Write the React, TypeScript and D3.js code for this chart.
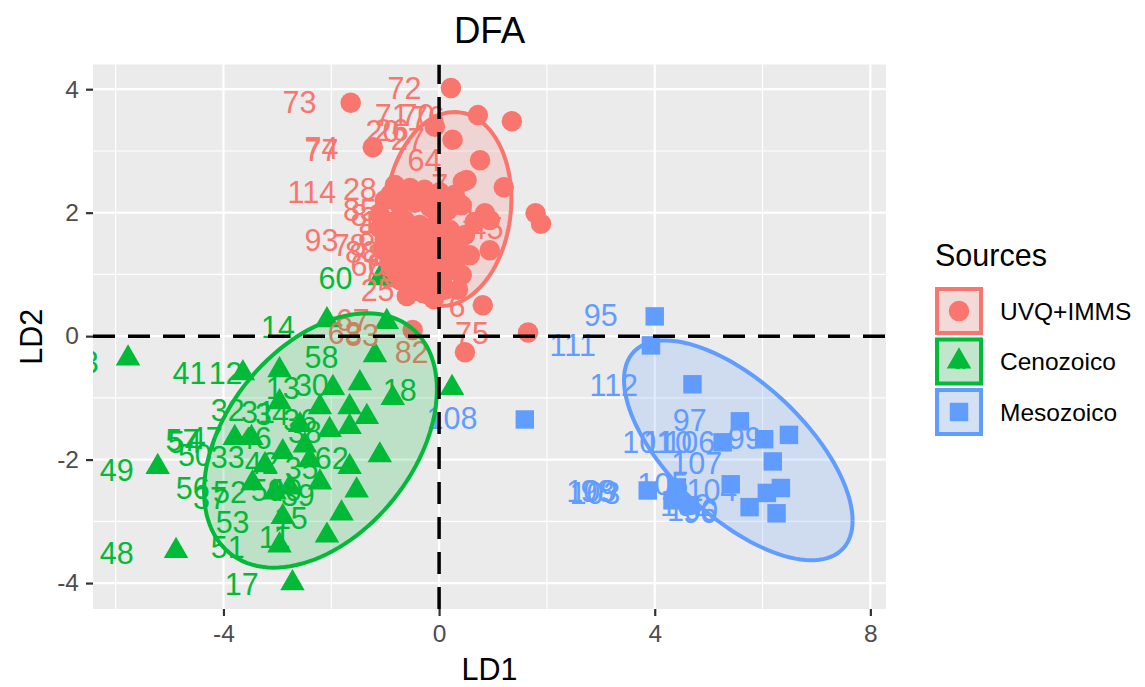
import React, { useRef, useEffect } from "react";
import * as d3 from "d3";

// groups and colours
const sources = ["UVQ+IMMS", "Cenozoico", "Mesozoico"];
const colors = ["#F8766D", "#00BA38", "#619CFF"];

// LD1 / LD2 scores
const uvqPoints: [number, number][] = [
  [0.22, 4.02], [-1.64, 3.78], [0.72, 3.58], [1.35, 3.48], [-0.08, 3.39], [0.25, 3.18],
  [-1.23, 3.06], [0.76, 2.85], [0.44, 2.5], [1.2, 2.41], [0.85, 1.99], [1.79, 1.99],
  [1.89, 1.82], [0.81, 0.5], [1.65, 0.06], [0.48, -0.26], [-0.17, 0.83], [-0.49, 0.1],
  [-0.82, 2.45], [-0.54, 2.4], [-0.27, 2.37], [0.01, 2.33], [0.29, 2.29], [0.51, 2.53],
  [-1.01, 2.2], [-0.73, 2.12], [-0.45, 2.16], [-0.17, 2.09], [0.16, 2.04], [0.42, 2.12],
  [0.66, 1.85], [-1.1, 1.96], [-0.88, 1.85], [-0.64, 1.88], [-0.36, 1.8], [-0.04, 1.85],
  [0.2, 1.72], [0.48, 1.64], [-1.01, 1.56], [-0.77, 1.47], [-0.54, 1.56], [-0.27, 1.47],
  [0.01, 1.43], [0.29, 1.39], [0.57, 1.31], [-0.91, 1.2], [-0.64, 1.15], [-0.36, 1.2],
  [-0.08, 1.1], [0.2, 1.07], [0.42, 0.99], [-0.73, 0.91], [-0.45, 0.83], [0.11, 0.75],
  [0.35, 0.75], [0.94, 1.88], [0.94, 1.39],
  [-0.9, 2.3], [-0.6, 2.25], [-0.3, 2.2], [0.05, 2.15], [-0.95, 1.7], [-0.7, 1.65],
  [-0.45, 1.7], [-0.2, 1.65], [0.1, 1.6], [0.35, 1.5], [-0.85, 1.35], [-0.6, 1.35],
  [-0.3, 1.3], [0.0, 1.25], [0.3, 1.2], [-0.55, 1.0], [-0.25, 0.95], [0.05, 0.9],
  [-0.3, 0.7], [-0.1, 0.6], [-0.6, 0.65], [-0.95, 0.95], [-1.05, 1.4], [-1.1, 1.75],
];
const uvqLabels: [string, number, number][] = [
  ["72", -0.64, 4.02], ["73", -2.59, 3.78], ["71", -0.88, 3.58], ["70", -0.4, 3.58],
  ["76", -0.21, 3.55], ["20", -1.05, 3.31], ["26", -0.88, 3.34], ["27", -0.58, 3.18],
  ["74", -2.18, 3.05], ["77", -2.18, 3.01], ["64", -0.27, 2.85], ["114", -2.36, 2.33],
  ["28", -1.47, 2.37], ["7", 0.01, 2.45], ["85", -1.47, 2.04], ["81", -1.33, 1.96],
  ["10", -1.14, 1.85], ["93", -2.18, 1.56], ["78", -1.66, 1.47], ["88", -1.43, 1.36],
  ["84", -1.19, 1.64], ["89", -1.01, 1.31], ["90", -0.82, 1.15], ["92", -0.73, 0.99],
  ["79", -1.1, 1.07], ["66", -1.33, 1.15], ["1", 0.57, 2.01], ["45", 0.88, 1.75],
  ["86", -0.36, 0.99], ["25", -1.14, 0.75], ["6", 0.33, 0.49], ["75", 0.61, 0.05],
  ["67", -1.6, 0.26], ["63", -1.75, 0.05], ["83", -1.43, 0.02], ["82", -0.51, -0.26],
];

const cenoPoints: [number, number][] = [
  [-5.77, -0.36], [-5.22, -2.12], [-4.88, -3.48], [-2.72, -4.0], [-3.64, -0.6], [-2.96, -0.55],
  [-2.08, 0.26], [-0.97, 0.23], [-1.19, -0.31], [-1.97, -0.84], [-1.47, -0.76], [-0.86, -1.0],
  [0.24, -0.84], [-2.96, -1.07], [-2.21, -1.15], [-1.66, -1.15], [-1.34, -1.31], [-1.66, -1.47],
  [-3.79, -1.65], [-3.48, -1.65], [-2.9, -1.88], [-2.49, -1.77], [-1.1, -1.93], [-1.66, -2.12],
  [-3.46, -2.38], [-3.05, -2.53], [-2.77, -2.45], [-2.21, -2.37], [-1.53, -2.5], [-1.81, -2.87],
  [-2.9, -2.93], [-2.08, -3.23], [-2.96, -3.39], [-1.1, 0.94], [-2.58, -1.44], [-2.03, -1.52],
  [-2.4, -2.01], [-3.23, -2.09],
];
const cenoLabels: [string, number, number][] = [
  ["60", -1.92, 0.94], ["14", -2.99, 0.15], ["58", -2.18, -0.34], ["41", -4.63, -0.6],
  ["12", -3.96, -0.6], ["13", -2.9, -0.84], ["30", -2.36, -0.79], ["32", -3.92, -1.2],
  ["31", -3.36, -1.23], ["34", -3.1, -1.26], ["36", -2.58, -1.36], ["18", -0.73, -0.88],
  ["57", -4.76, -1.69], ["54", -4.72, -1.72], ["47", -4.33, -1.65], ["46", -3.42, -1.65],
  ["50", -4.53, -1.93], ["33", -3.92, -1.96], ["38", -2.49, -1.56], ["49", -5.98, -2.17],
  ["62", -1.99, -1.98], ["35", -2.55, -2.14], ["56", -4.57, -2.46], ["52", -3.88, -2.53],
  ["37", -4.25, -2.63], ["59", -3.18, -2.5], ["40", -2.86, -2.5], ["39", -2.62, -2.58],
  ["42", -3.29, -2.06], ["53", -3.83, -3.01], ["51", -3.92, -3.42], ["11", -3.05, -3.26],
  ["15", -2.75, -2.95], ["17", -3.66, -4.02], ["48", -5.98, -3.52], ["43", -6.63, -0.42],
];

const mesoPoints: [number, number][] = [
  [4.0, 0.32], [3.93, -0.15], [4.7, -0.78], [1.59, -1.35], [5.58, -1.38], [6.49, -1.6],
  [6.03, -1.67], [5.26, -1.72], [6.19, -2.03], [5.41, -2.4], [6.34, -2.46], [6.08, -2.54],
  [5.76, -2.77], [6.26, -2.87], [3.87, -2.5], [4.41, -2.45], [4.33, -2.66], [4.65, -2.74],
];
const mesoLabels: [string, number, number][] = [
  ["95", 3.0, 0.34], ["111", 2.48, -0.15], ["112", 3.24, -0.79], ["108", 0.24, -1.33],
  ["97", 4.65, -1.36], ["101", 3.87, -1.72], ["110", 4.24, -1.72], ["106", 4.65, -1.72],
  ["99", 5.67, -1.65], ["107", 4.78, -2.06], ["109", 2.83, -2.51], ["98", 2.94, -2.51],
  ["103", 2.89, -2.54], ["105", 4.15, -2.4], ["104", 5.06, -2.5], ["100", 4.7, -2.82],
  ["102", 4.57, -2.74], ["96", 4.84, -2.85],
];

// 95% ellipse: centre, then [sd LD1, sd LD2, correlation] (radius folded in)
const ellipseCenters: [number, number][] = [[0.17, 2.06], [-2.2, -1.69], [5.55, -1.85]];
const ellipseSpread: [number, number, number][] = [[1.17, 1.57, 0.1], [2.16, 2.06, 0.4], [2.12, 1.78, -0.64]];

const xMajor = [-4, 0, 4, 8];
const xMinor = [-6, -2, 2, 6];
const yMajor = [-4, -2, 0, 2, 4];
const yMinor = [-3, -1, 1, 3];

const FONT = "'Liberation Sans', Arial, sans-serif";

const App: React.FC = () => {
  const ref = useRef<SVGSVGElement | null>(null);

  useEffect(() => {
    if (!ref.current) return;
    const svg = d3.select(ref.current);
    svg.selectAll("*").remove();

    const width = 1145;
    const height = 687;
    const panel = { left: 93, right: 886, top: 64.5, bottom: 609 };

    const x = d3.scaleLinear().domain([-6.42, 8.29]).range([panel.left, panel.right]);
    const y = d3.scaleLinear().domain([-4.42, 4.4]).range([panel.bottom, panel.top]);

    svg.attr("width", width).attr("height", height).style("font-family", FONT);
    svg.append("rect").attr("width", width).attr("height", height).attr("fill", "white");

    svg.append("defs").append("clipPath").attr("id", "panel-clip")
      .append("rect")
      .attr("x", panel.left).attr("y", panel.top)
      .attr("width", panel.right - panel.left).attr("height", panel.bottom - panel.top);

    // panel + grid
    svg.append("rect")
      .attr("x", panel.left).attr("y", panel.top)
      .attr("width", panel.right - panel.left).attr("height", panel.bottom - panel.top)
      .attr("fill", "#EBEBEB");

    const grid = svg.append("g");
    grid.selectAll(".vmin").data(xMinor).join("line")
      .attr("x1", (d) => x(d)).attr("x2", (d) => x(d))
      .attr("y1", panel.top).attr("y2", panel.bottom)
      .attr("stroke", "white").attr("stroke-width", 1.1);
    grid.selectAll(".hmin").data(yMinor).join("line")
      .attr("y1", (d) => y(d)).attr("y2", (d) => y(d))
      .attr("x1", panel.left).attr("x2", panel.right)
      .attr("stroke", "white").attr("stroke-width", 1.1);
    grid.selectAll(".vmaj").data(xMajor).join("line")
      .attr("x1", (d) => x(d)).attr("x2", (d) => x(d))
      .attr("y1", panel.top).attr("y2", panel.bottom)
      .attr("stroke", "white").attr("stroke-width", 2.2);
    grid.selectAll(".hmaj").data(yMajor).join("line")
      .attr("y1", (d) => y(d)).attr("y2", (d) => y(d))
      .attr("x1", panel.left).attr("x2", panel.right)
      .attr("stroke", "white").attr("stroke-width", 2.2);

    const plot = svg.append("g").attr("clip-path", "url(#panel-clip)");

    const symbols = [
      d3.symbol().type(d3.symbolCircle).size(330),
      d3.symbol().type(d3.symbolTriangle).size(260),
      d3.symbol().type(d3.symbolSquare).size(340),
    ];
    const pointSets = [uvqPoints, cenoPoints, mesoPoints];
    const labelSets = [uvqLabels, cenoLabels, mesoLabels];

    pointSets.forEach((pts, i) => {
      plot.append("g").selectAll("path").data(pts).join("path")
        .attr("transform", (d) => `translate(${x(d[0])},${y(d[1])})`)
        .attr("d", symbols[i]()!)
        .attr("fill", colors[i]);
    });

    labelSets.forEach((labs, i) => {
      plot.append("g").selectAll("text").data(labs).join("text")
        .attr("x", (d) => x(d[1]))
        .attr("y", (d) => y(d[2]))
        .attr("dy", "0.35em")
        .attr("text-anchor", "middle")
        .attr("font-size", 30.5)
        .attr("fill", colors[i])
        .text((d) => d[0]);
    });

    // ellipses
    const angles = d3.range(0, 2 * Math.PI + 0.001, Math.PI / 60);
    const ellLine = d3.line<[number, number]>().x((d) => x(d[0])).y((d) => y(d[1]));
    ellipseCenters.forEach((c, i) => {
      const [sx, sy, rho] = ellipseSpread[i];
      const pts: [number, number][] = angles.map((t) => [
        c[0] + sx * Math.cos(t),
        c[1] + sy * (rho * Math.cos(t) + Math.sqrt(1 - rho * rho) * Math.sin(t)),
      ]);
      plot.append("path")
        .datum(pts)
        .attr("d", ellLine)
        .attr("fill", colors[i])
        .attr("fill-opacity", 0.2)
        .attr("stroke", colors[i])
        .attr("stroke-width", 4);
    });

    // reference lines at 0
    plot.append("line")
      .attr("x1", panel.left).attr("x2", panel.right)
      .attr("y1", y(0)).attr("y2", y(0))
      .attr("stroke", "black").attr("stroke-width", 3.5).attr("stroke-dasharray", "22,13");
    plot.append("line")
      .attr("x1", x(0)).attr("x2", x(0))
      .attr("y1", panel.bottom).attr("y2", panel.top)
      .attr("stroke", "black").attr("stroke-width", 3.5).attr("stroke-dasharray", "22,13");

    // axes
    const fmt = (d: d3.NumberValue) => String(d);
    const xAxis = svg.append("g")
      .attr("transform", `translate(0,${panel.bottom})`)
      .call(d3.axisBottom(x).tickValues(xMajor).tickSize(7).tickPadding(9).tickFormat(fmt));
    const yAxis = svg.append("g")
      .attr("transform", `translate(${panel.left},0)`)
      .call(d3.axisLeft(y).tickValues(yMajor).tickSize(7).tickPadding(7).tickFormat(fmt));
    [xAxis, yAxis].forEach((g) => {
      g.select(".domain").remove();
      g.selectAll(".tick line").attr("stroke", "#333333").attr("stroke-width", 2.2);
      g.selectAll(".tick text")
        .attr("fill", "#4D4D4D")
        .attr("font-size", 24.5)
        .attr("font-family", FONT);
    });

    const mid = (panel.left + panel.right) / 2;
    svg.append("text")
      .attr("x", mid).attr("y", 680)
      .attr("text-anchor", "middle").attr("font-size", 30.5).attr("fill", "black")
      .text("LD1");
    svg.append("text")
      .attr("transform", `translate(42,${(panel.top + panel.bottom) / 2}) rotate(-90)`)
      .attr("text-anchor", "middle").attr("font-size", 30.5).attr("fill", "black")
      .text("LD2");
    svg.append("text")
      .attr("x", mid).attr("y", 43)
      .attr("text-anchor", "middle").attr("font-size", 36.6).attr("fill", "black")
      .text("DFA");

    // legend
    const legend = svg.append("g");
    legend.append("text")
      .attr("x", 935).attr("y", 266)
      .attr("font-size", 30.5).attr("fill", "black")
      .text("Sources");
    const keyY = d3.scalePoint<string>().domain(sources).range([311, 412]);
    sources.forEach((s, i) => {
      const cy = keyY(s)!;
      const k = legend.append("g");
      k.append("rect")
        .attr("x", 935).attr("y", cy - 24).attr("width", 48).attr("height", 48)
        .attr("fill", "#F2F2F2");
      k.append("rect")
        .attr("x", 937).attr("y", cy - 22).attr("width", 44).attr("height", 44)
        .attr("fill", colors[i]).attr("fill-opacity", 0.2)
        .attr("stroke", colors[i]).attr("stroke-width", 4);
      k.append("path")
        .attr("transform", `translate(959,${cy})`)
        .attr("d", symbols[i]()!)
        .attr("fill", colors[i]);
      k.append("text")
        .attr("x", 959).attr("y", cy).attr("dy", "0.35em")
        .attr("text-anchor", "middle").attr("font-size", 22)
        .attr("fill", colors[i])
        .text("a");
      legend.append("text")
        .attr("x", 1000).attr("y", cy).attr("dy", "0.35em")
        .attr("font-size", 24.5).attr("fill", "black")
        .text(s);
    });
  }, []);

  return (
    <div style={{ position: "absolute", left: 0, top: 0 }}>
      <svg ref={ref} style={{ display: "block" }} />
    </div>
  );
};

export default App;
